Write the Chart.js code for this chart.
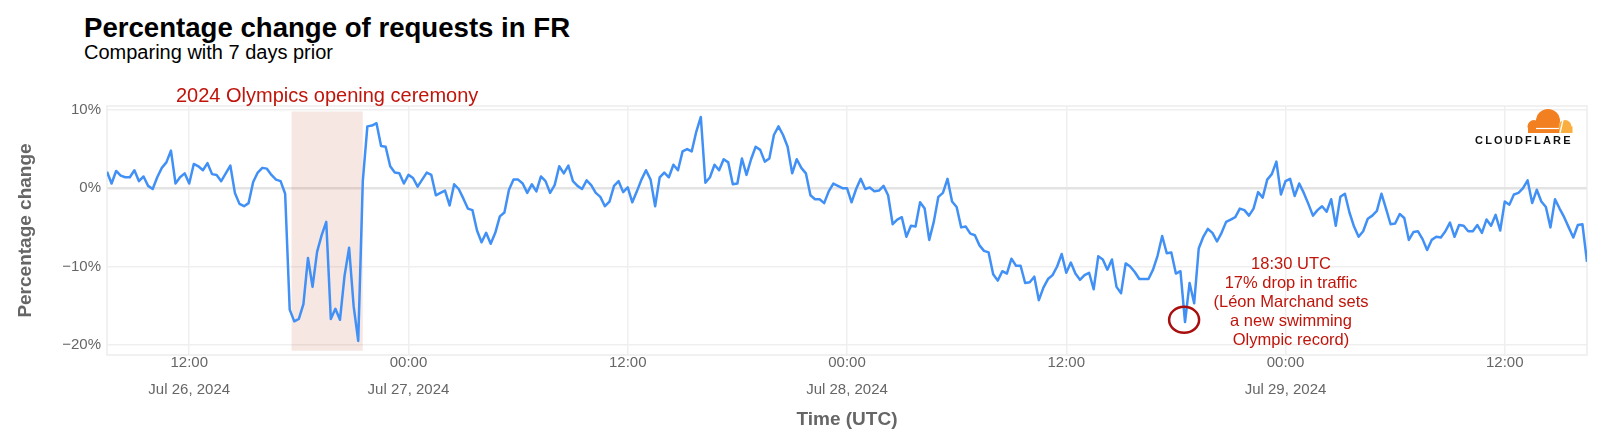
<!DOCTYPE html>
<html>
<head>
<meta charset="utf-8">
<script src="https://cdn.jsdelivr.net/npm/chart.js@4.4.1/dist/chart.umd.min.js"></script>
<style>
    html, body { margin: 0; padding: 0; background: #fff; }
    body { position: relative; width: 1600px; height: 446px; overflow: hidden; font-family: "Liberation Sans", Arial, sans-serif; }
    #title { position: absolute; left: 84px; top: 12px; font-size: 27.6px; line-height: 32px; font-weight: bold; color: #000; }
    #subtitle { position: absolute; left: 84px; top: 41px; font-size: 20px; line-height: 22px; color: #000; }
    #logo { position: absolute; left: 1470px; top: 108px; width: 112px; height: 40px; }
    #logo .word { position: absolute; left: 5px; top: 26px; font-size: 11px; font-weight: 900; letter-spacing: 2.2px; color: #111; }
    #logo svg { position: absolute; left: 53px; top: 0px; }
    canvas { position: absolute; left: 0; top: 0; }
</style>
</head>
<body>
<div id="title">Percentage change of requests in FR</div>
<div id="subtitle">Comparing with 7 days prior</div>
<canvas id="changeChart" width="1600" height="446"></canvas>
<div id="logo">
    <svg width="52" height="27" viewBox="0 0 52 27">
        <circle cx="25" cy="13" r="12" fill="#f38020"/>
        <circle cx="11" cy="18.5" r="6.5" fill="#f38020"/>
        <rect x="5" y="18" width="35" height="7" fill="#f38020"/>
        <circle cx="42" cy="18.5" r="6.5" fill="#faae40"/>
        <rect x="36" y="18.5" width="13.5" height="6.5" fill="#faae40"/>
        <path d="M13 20.5 L36 20.5" stroke="#fff" stroke-width="1.2"/>
        <path d="M37 25 L40 12" stroke="#fff" stroke-width="1.3"/>
    </svg>
    <div class="word">CLOUDFLARE</div>
</div>
<script>
// series: percentage change, one value every 15 minutes, starting Jul 26 07:30 UTC
const startHour = 7.5;
const stepHours = 0.25;

const jul26 = [2.1, 0.6, 2.2, 1.6, 1.4, 1.4, 2.3, 0.9, 1.5, 0.3,
    -0.1, 1.4, 2.6, 3.3, 4.8, 0.6, 1.4, 1.9, 0.6, 3.1,
    2.8, 2.3, 3.2, 1.8, 1.7, 0.9, 1.9, 2.9, -0.6, -2.0,
    -2.3, -1.9, 0.8, 2.0, 2.6, 2.5, 1.7, 1.1, 0.9, -0.7,
    -15.5, -17.0, -16.7, -14.8, -8.9, -12.6, -8.1, -6.0, -4.3, -16.7,
    -15.4, -16.8, -11.2, -7.6, -15.1, -19.5, 0.9, 7.9, 8.0, 8.3,
    5.4, 5.3, 2.8, 2.0, 1.9, 0.6];

const jul27 = [1.7, 1.3, 0.2, 1.1, 2.0, 1.7, -0.9, -0.6, -0.3, -2.2,
    0.5, -0.1, -1.3, -2.6, -2.8, -5.4, -6.9, -5.7, -7.1, -5.7,
    -3.6, -3.1, -0.2, 1.1, 1.1, 0.6, -0.6, 0.5, -0.4, 1.5,
    0.9, -0.6, 0.4, 2.8, 1.9, 2.9, 0.9, 0.3, -0.1, 1.0,
    0.4, -0.6, -1.1, -2.3, -1.7, 0.3, 0.9, -0.5, 0.1, -1.8,
    -0.4, 1.1, 2.3, 1.1, -2.3, 1.4, 2.0, 1.4, 3.0, 2.3,
    4.7, 5.0, 4.7, 7.2, 9.1, 0.7, 1.4, 3.0, 2.3, 3.7,
    3.3, 0.5, 0.6, 3.8, 1.7, 3.7, 5.3, 4.9, 3.4, 3.8,
    6.8, 7.9, 6.8, 5.3, 1.9, 3.7, 2.6, 1.9, -0.9, -1.4,
    -1.4, -1.9, -0.4, 0.6, 0.3, 0.0];

const jul28 = [0.0, -1.8, -0.1, 1.2, -0.1, 0.1, -0.4, -0.3, 0.3, -0.9,
    -4.6, -4.0, -3.7, -6.2, -4.8, -4.9, -1.8, -2.6, -6.6, -4.3,
    -1.1, -0.6, 1.2, -1.7, -2.4, -5.0, -4.9, -5.8, -6.0, -7.3,
    -8.0, -8.2, -11.0, -11.8, -10.6, -10.9, -9.0, -9.9, -9.9, -12.1,
    -12.0, -11.3, -14.3, -12.7, -11.6, -11.1, -10.0, -8.4, -10.8, -9.5,
    -10.9, -11.7, -11.1, -10.8, -12.9, -8.7, -9.1, -10.4, -9.1, -12.6,
    -13.4, -9.6, -10.0, -10.7, -11.6, -11.6, -11.6, -10.4, -8.6, -6.1,
    -8.3, -8.2, -10.9, -10.6, -17.1, -12.1, -14.7, -7.7, -6.2, -5.2,
    -5.7, -6.8, -5.7, -4.3, -4.0, -3.7, -2.6, -2.8, -3.5, -2.6,
    -0.5, -1.2, 1.1, 1.8, 3.4, -0.8];

const jul29 = [0.9, 1.2, -1.0, 0.6, -0.6, -2.0, -3.5, -2.8, -2.3, -3.0,
    -1.4, -4.8, -1.1, -0.7, -3.1, -4.9, -6.2, -5.5, -3.9, -3.5,
    -2.9, -0.7, -2.6, -4.6, -4.5, -3.3, -3.8, -6.6, -5.6, -5.5,
    -6.5, -7.9, -6.6, -6.2, -6.3, -5.5, -4.4, -6.2, -4.7, -4.8,
    -5.5, -5.5, -4.7, -5.7, -4.0, -4.8, -3.4, -5.4, -1.7, -2.1,
    -0.8, -0.6, 0.0, 1.0, -1.9, -0.2, -1.7, -2.4, -5.0, -1.4,
    -2.6, -3.7, -5.0, -6.3, -4.7, -4.6, -9.4];

// x ticks (hours since Jul 26 00:00 UTC)
const tickHours = [12, 24, 36, 48, 60, 72, 84];
const tickTimes = ['12:00', '00:00', '12:00', '00:00', '12:00', '00:00', '12:00'];
const tickDates = ['Jul 26, 2024', 'Jul 27, 2024', '', 'Jul 28, 2024', '', 'Jul 29, 2024', ''];
const yTicks = [-20, -10, 0, 10];

// annotations
const ceremony = { start: 17.6, end: 21.5, top: 9.8, bottom: -20.75, label: '2024 Olympics opening ceremony' };
const dropMark = { x: 66.45, y: -16.8 };
const dropNote = { x: 72.3, y: -9.8, lines: ['18:30 UTC', '17% drop in traffic', '(Léon Marchand sets', 'a new swimming', 'Olympic record)'] };

const annotationRed = '#c0150b';

const values = [...jul26, ...jul27, ...jul28, ...jul29];
const points = values.map((v, i) => ({ x: startHour + i * stepHours, y: v }));

// cadre + zone de la cérémonie, sous la courbe
const backdropPlugin = {
    id: 'backdrop',
    beforeDatasetsDraw(chart) {
        const { ctx, chartArea: a, scales: { x, y } } = chart;
        ctx.save();
        ctx.strokeStyle = '#ededed';
        ctx.lineWidth = 1.5;
        ctx.strokeRect(a.left, a.top, a.right - a.left, a.bottom - a.top);

        const x0 = x.getPixelForValue(ceremony.start);
        const x1 = x.getPixelForValue(ceremony.end);
        const y0 = y.getPixelForValue(ceremony.top);
        const y1 = y.getPixelForValue(ceremony.bottom);
        ctx.fillStyle = 'rgba(200, 95, 65, 0.15)';
        ctx.fillRect(x0, y0, x1 - x0, y1 - y0);

        ctx.fillStyle = annotationRed;
        ctx.font = '20px "Liberation Sans", Arial, sans-serif';
        ctx.textAlign = 'center';
        ctx.textBaseline = 'middle';
        ctx.fillText(ceremony.label, (x0 + x1) / 2, a.top - 10);
        ctx.restore();
    }
};

// cercle et note sur la chute de 18:30
const notePlugin = {
    id: 'dropNote',
    afterDatasetsDraw(chart) {
        const { ctx, scales: { x, y } } = chart;
        ctx.save();
        ctx.strokeStyle = '#a80f0f';
        ctx.lineWidth = 2.5;
        ctx.beginPath();
        ctx.ellipse(x.getPixelForValue(dropMark.x), y.getPixelForValue(dropMark.y), 15, 13, 0, 0, Math.PI * 2);
        ctx.stroke();

        ctx.fillStyle = annotationRed;
        ctx.font = '16.5px "Liberation Sans", Arial, sans-serif';
        ctx.textAlign = 'center';
        ctx.textBaseline = 'middle';
        const cx = x.getPixelForValue(dropNote.x);
        const cy = y.getPixelForValue(dropNote.y);
        dropNote.lines.forEach((line, i) => ctx.fillText(line, cx, cy + i * 18.8));
        ctx.restore();
    }
};

Chart.defaults.font.family = '"Liberation Sans", Arial, sans-serif';

new Chart(document.getElementById('changeChart'), {
    type: 'line',
    data: {
        datasets: [{
            data: points,
            borderColor: '#4190f6',
            borderWidth: 2.5,
            borderJoinStyle: 'round',
            pointRadius: 0,
            tension: 0,
            fill: false
        }]
    },
    options: {
        responsive: false,
        animation: false,
        layout: { padding: { top: 106, right: 13, bottom: 0, left: 0 } },
        plugins: {
            legend: { display: false },
            tooltip: { enabled: false }
        },
        scales: {
            x: {
                type: 'linear',
                min: startHour,
                max: startHour + (values.length - 1) * stepHours,
                afterBuildTicks: scale => { scale.ticks = tickHours.map(v => ({ value: v })); },
                afterFit: scale => { scale.height = 91; },
                grid: { color: '#efefef', lineWidth: 1.5, drawTicks: false },
                border: { display: false },
                ticks: {
                    autoSkip: false,
                    maxRotation: 0,
                    padding: -5,
                    color: '#666',
                    font: { size: 15, lineHeight: 1.75 },
                    callback: value => {
                        const k = tickHours.indexOf(value);
                        return tickDates[k] ? [tickTimes[k], tickDates[k]] : tickTimes[k];
                    }
                },
                title: {
                    display: true,
                    text: 'Time (UTC)',
                    color: '#666',
                    font: { size: 19, weight: 'bold' },
                    padding: { top: 0, bottom: 15 }
                }
            },
            y: {
                min: -21.3,
                max: 10.5,
                afterBuildTicks: scale => { scale.ticks = yTicks.map(v => ({ value: v })); },
                afterFit: scale => { scale.width = 107; },
                grid: {
                    color: c => c.tick && c.tick.value === 0 ? '#e3e3e3' : '#efefef',
                    lineWidth: c => c.tick && c.tick.value === 0 ? 2.5 : 1.5,
                    drawTicks: false
                },
                border: { display: false },
                ticks: {
                    padding: 6,
                    color: '#666',
                    font: { size: 15 },
                    callback: value => (value < 0 ? '\u2212' : '') + Math.abs(value) + '%'
                },
                title: {
                    display: true,
                    text: 'Percentage change',
                    color: '#666',
                    font: { size: 19, weight: 'bold' },
                    padding: { top: 14, bottom: 0 }
                }
            }
        }
    },
    plugins: [backdropPlugin, notePlugin]
});
</script>
</body>
</html>
